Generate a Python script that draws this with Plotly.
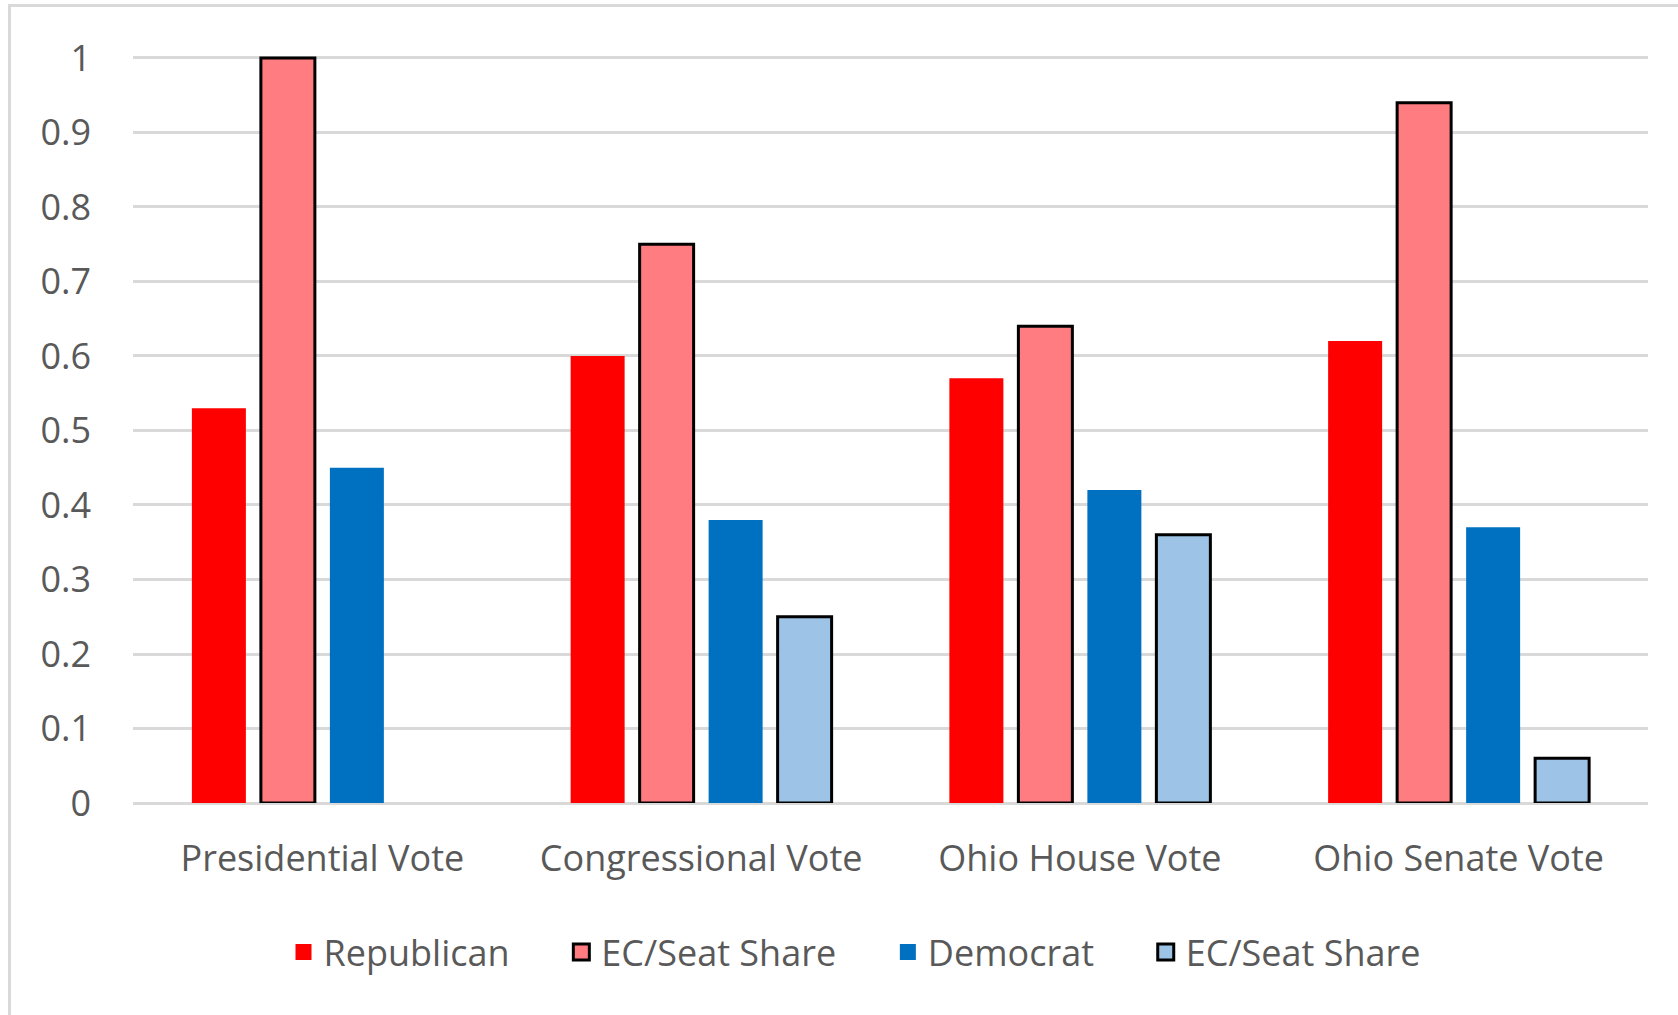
import plotly.graph_objects as go

# Vote share vs. seat share, Ohio elections
categories = ["Presidential Vote", "Congressional Vote", "Ohio House Vote", "Ohio Senate Vote"]
rep_vote = [0.53, 0.60, 0.57, 0.62]
rep_seat = [1.00, 0.75, 0.64, 0.94]
dem_vote = [0.45, 0.38, 0.42, 0.37]
dem_seat = [None, 0.25, 0.36, 0.06]

series_names = ["Republican", "EC/Seat Share", "Democrat", "EC/Seat Share"]
y_ticks = [0, 0.1, 0.2, 0.3, 0.4, 0.5, 0.6, 0.7, 0.8, 0.9, 1]

FONT = "Open Sans"
FS = 36
TEXT_GREY = "#595959"
GRID = "#d9d9d9"
PAD = "\u00a0" * 5  # spacing between legend entries

series = [
    (series_names[0], rep_vote, "#ff0000", 0),
    (series_names[1], rep_seat, "#ff7c80", 3),
    (series_names[2], dem_vote, "#0070c0", 0),
    (series_names[3], dem_seat, "#9dc3e6", 3),
]

fig = go.Figure()

for name, vals, color, lw in series:
    fig.add_trace(go.Bar(
        x=categories, y=vals, name=name, showlegend=False,
        marker=dict(color=color, line=dict(color="#000000", width=lw)),
    ))

# legend entries drawn as square swatches
for i, (name, vals, color, lw) in enumerate(series):
    label = name + (PAD if i < len(series) - 1 else "")
    fig.add_trace(go.Scatter(
        x=[None], y=[None], name=label, mode="markers",
        marker=dict(symbol="square", size=16, color=color,
                    line=dict(color="#000000", width=lw)),
    ))

W, H = 1678, 1015
L, R, T, B = 133, 30, 55, 212
pw = W - L - R
ph = H - T - B

def px_x(px):
    return (px - L) / pw

def px_y(py):
    return (H - B - py) / ph

fig.update_layout(
    width=W, height=H,
    margin=dict(l=L, r=R, t=T, b=B),
    paper_bgcolor="white", plot_bgcolor="white",
    barmode="group", bargap=0.2713, bargroupgap=0.2174,
    font=dict(family=FONT, size=FS, color=TEXT_GREY),
    legend=dict(
        orientation="h", x=px_x(855), xanchor="center",
        y=px_y(952), yanchor="middle",
        font=dict(family=FONT, size=FS, color=TEXT_GREY),
        bgcolor="rgba(0,0,0,0)",
    ),
    xaxis=dict(
        showgrid=False, showline=False, zeroline=False,
        ticks="", ticklabelstandoff=31,
        tickfont=dict(family=FONT, size=FS, color=TEXT_GREY),
    ),
    yaxis=dict(
        range=[0, 1.004], tickvals=y_ticks,
        showgrid=True, gridcolor=GRID, gridwidth=2.5,
        zeroline=True, zerolinecolor=GRID, zerolinewidth=2.5,
        showline=False, ticks="", ticklabelstandoff=41,
        tickfont=dict(family=FONT, size=FS, color=TEXT_GREY),
    ),
    shapes=[dict(
        type="rect", xref="paper", yref="paper",
        x0=px_x(9.5), x1=px_x(1720), y0=px_y(1040), y1=px_y(5.5),
        line=dict(color=GRID, width=3), fillcolor="rgba(0,0,0,0)",
        layer="below",
    )],
)

fig.write_html("out.html")
